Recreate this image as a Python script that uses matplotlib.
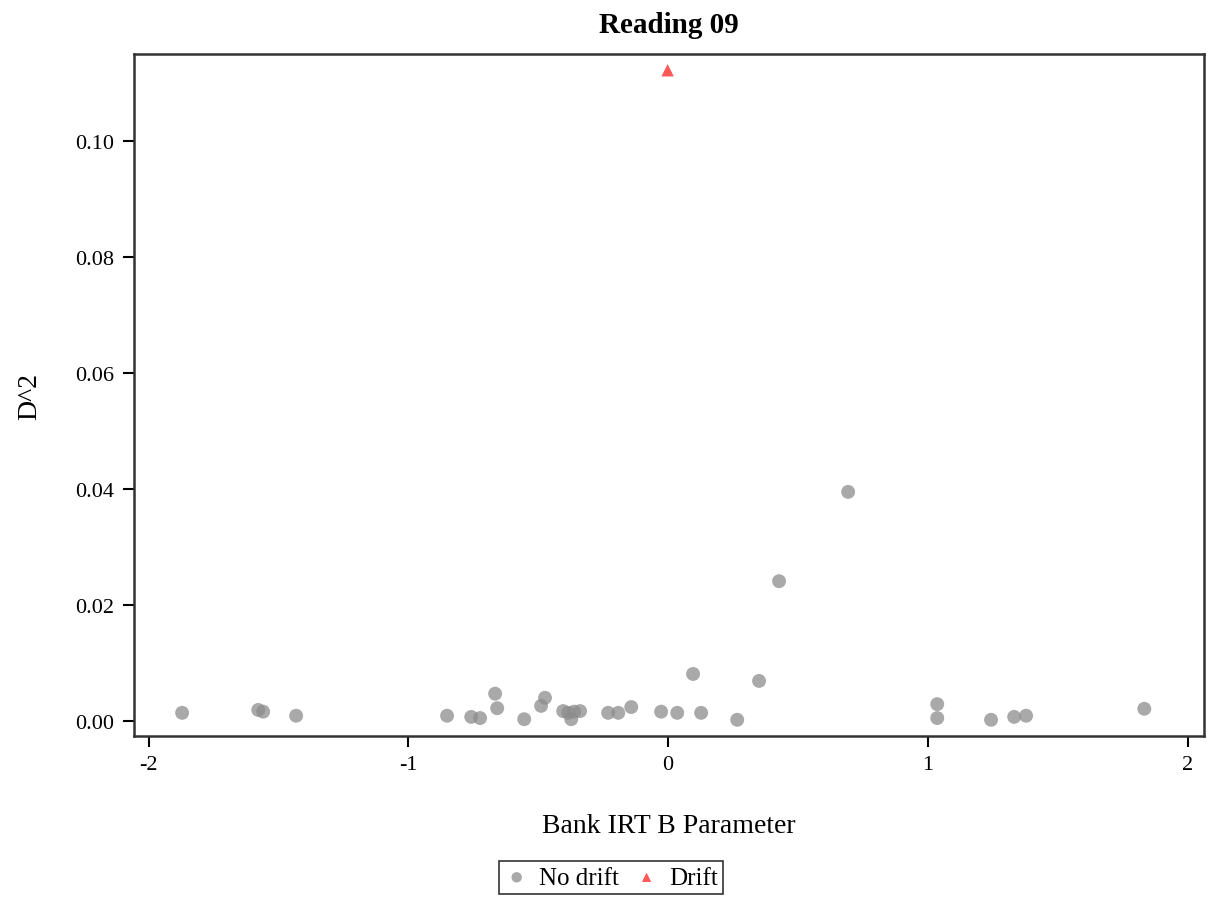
"""Reading 09 drift plot: D^2 vs bank IRT B parameter."""
import matplotlib
matplotlib.use("Agg")
import matplotlib.pyplot as plt

# no drift items
b_nodrift = [-1.871, -1.578, -1.559, -1.432, -0.851, -0.758, -0.724, -0.666, -0.658,
             -0.554, -0.489, -0.474, -0.404, -0.385, -0.373, -0.362, -0.339, -0.231,
             -0.192, -0.142, -0.027, 0.035, 0.096, 0.127, 0.266, 0.350, 0.427, 0.693,
             1.036, 1.036, 1.243, 1.332, 1.378, 1.833]
d2_nodrift = [0.0014, 0.0019, 0.0016, 0.0009, 0.0009, 0.0007, 0.0005, 0.0047, 0.0022,
              0.0003, 0.0026, 0.0040, 0.0017, 0.0014, 0.0003, 0.0016, 0.0017, 0.0014,
              0.0014, 0.0024, 0.0016, 0.0014, 0.0081, 0.0014, 0.0002, 0.0069, 0.0241,
              0.0395, 0.0029, 0.0005, 0.0002, 0.0007, 0.0009, 0.0021]
# drift items
b_drift = [-0.002]
d2_drift = [0.1122]

xticks = [-2, -1, 0, 1, 2]
yticks = [0.00, 0.02, 0.04, 0.06, 0.08, 0.10]

plt.rcParams["font.family"] = ["Liberation Serif", "DejaVu Serif"]

fig = plt.figure(figsize=(12.22, 9.03), dpi=100)
ax = fig.add_axes([0.1097, 0.1838, 0.8756, 0.7553])

ax.scatter(b_nodrift, d2_nodrift, s=100, color="#8c8c8c", alpha=0.75,
           edgecolors="none", label="No drift", zorder=3)
ax.scatter(b_drift, d2_drift, s=80, marker="^", color="#ff3b3b", alpha=0.85,
           edgecolors="none", label="Drift", zorder=3)

ax.set_xlim(-2.056, 2.063)
ax.set_ylim(-0.0026, 0.1150)
ax.set_xticks(xticks)
ax.set_xticklabels([str(t) for t in xticks])
ax.set_yticks(yticks)
ax.set_yticklabels([f"{t:.2f}" for t in yticks])
ax.tick_params(direction="out", length=8, width=1.5, labelsize=16, pad=6)
for sp in ax.spines.values():
    sp.set_linewidth(1.8)
    sp.set_color("#333333")

ax.set_title("Reading 09", fontsize=21, fontweight="bold", pad=16)
ax.set_xlabel("Bank IRT B Parameter", fontsize=20, labelpad=28)
ax.set_ylabel("D^2", fontsize=20, labelpad=24)

leg = fig.legend(loc="center", bbox_to_anchor=(0.5, 0.027), ncol=2, fontsize=18,
                 frameon=True, fancybox=False, edgecolor="black", handlelength=1.0,
                 handletextpad=0.4, columnspacing=0.6, borderpad=0.2, markerscale=0.75)
leg.get_frame().set_linewidth(1.2)

fig.savefig("out.png", dpi=100)
